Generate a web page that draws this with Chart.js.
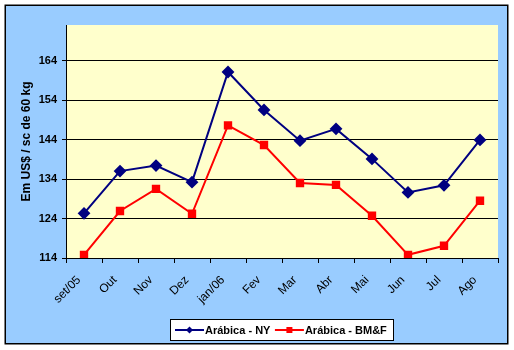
<!DOCTYPE html>
<html>
<head>
<meta charset="utf-8">
<script src="https://cdn.jsdelivr.net/npm/chart.js@4/dist/chart.umd.min.js"></script>
<style>
  html, body { margin: 0; padding: 0; background: #ffffff; }
  #wrap { width: 514px; height: 350px; position: relative; }
</style>
</head>
<body>
<div id="wrap"><canvas id="c" width="514" height="350"></canvas></div>
<script>
const categories = ['set/05', 'Out', 'Nov', 'Dez', 'jan/06', 'Fev', 'Mar', 'Abr', 'Mai', 'Jun', 'Jul', 'Ago'];
const arabicaNY = [125.3, 136.0, 137.4, 133.2, 161.1, 151.5, 143.7, 146.7, 139.1, 130.6, 132.4, 143.9];
const arabicaBMF = [114.8, 125.9, 131.5, 125.2, 147.6, 142.6, 133.0, 132.5, 124.7, 114.8, 117.1, 128.5];
const yTickValues = [114, 124, 134, 144, 154, 164];
const yTitle = 'Em US$ / sc de 60 kg';
const seriesNames = ['Arábica - NY', 'Arábica - BM&F'];

const FONT = 'Arial, "Liberation Sans", sans-serif';

const bgPlugin = {
  id: 'bgPlugin',
  beforeDraw(chart) {
    const ctx = chart.ctx;
    ctx.save();
    ctx.fillStyle = '#ffffff';
    ctx.fillRect(0, 0, chart.width, chart.height);
    ctx.fillStyle = '#99CCFF';
    ctx.fillRect(5, 5, 503, 339);
    ctx.strokeStyle = '#000000';
    ctx.lineWidth = 1.5;
    ctx.strokeRect(5.25, 5.25, 502.5, 338.5);
    const a = chart.chartArea;
    ctx.fillStyle = '#FFFFCC';
    ctx.fillRect(a.left, a.top, a.right - a.left, a.bottom - a.top);
    ctx.restore();
  }
};

const legendPlugin = {
  id: 'boxLegend',
  afterDraw(chart) {
    const ctx = chart.ctx;
    ctx.save();
    const bx = 170.5, by = 319.5, bw = 223, bh = 21;
    ctx.fillStyle = '#ffffff';
    ctx.fillRect(bx, by, bw, bh);
    ctx.strokeStyle = '#000000';
    ctx.lineWidth = 1;
    ctx.strokeRect(bx, by, bw, bh);
    ctx.font = 'bold 11px ' + FONT;
    ctx.textBaseline = 'middle';
    ctx.textAlign = 'left';
    const cy = 330;
    let x = 175;
    chart.data.datasets.forEach((ds, i) => {
      ctx.strokeStyle = ds.borderColor;
      ctx.lineWidth = 2;
      ctx.beginPath();
      ctx.moveTo(x, cy);
      ctx.lineTo(x + 29, cy);
      ctx.stroke();
      ctx.fillStyle = ds.borderColor;
      const mx = x + 14.5;
      if (ds.pointStyle === 'rectRot') {
        ctx.beginPath();
        ctx.moveTo(mx, cy - 3.5);
        ctx.lineTo(mx + 3.5, cy);
        ctx.lineTo(mx, cy + 3.5);
        ctx.lineTo(mx - 3.5, cy);
        ctx.closePath();
        ctx.fill();
      } else {
        ctx.fillRect(mx - 3, cy - 3, 6, 6);
      }
      ctx.fillStyle = '#000000';
      ctx.fillText(ds.label, x + 30, cy + 0.5);
      x += 30 + ctx.measureText(ds.label).width + 4.5;
    });
    ctx.restore();
  }
};

new Chart(document.getElementById('c'), {
  type: 'line',
  data: {
    labels: categories,
    datasets: [
      {
        label: seriesNames[0],
        data: arabicaNY,
        borderColor: '#000080',
        backgroundColor: '#000080',
        borderWidth: 2,
        pointStyle: 'rectRot',
        pointRadius: 5,
        pointHoverRadius: 5,
        tension: 0,
        fill: false
      },
      {
        label: seriesNames[1],
        data: arabicaBMF,
        borderColor: '#FF0000',
        backgroundColor: '#FF0000',
        borderWidth: 2,
        pointStyle: 'rect',
        pointRadius: 4.5,
        pointHoverRadius: 4.5,
        tension: 0,
        fill: false
      }
    ]
  },
  options: {
    responsive: false,
    animation: false,
    events: [],
    layout: { padding: { left: 5, right: 16, top: 25, bottom: 6 } },
    plugins: {
      legend: { display: false },
      tooltip: { enabled: false }
    },
    scales: {
      x: {
        type: 'category',
        offset: true,
        grid: {
          offset: true,
          drawOnChartArea: false,
          drawTicks: true,
          tickLength: 5,
          color: '#000000',
          lineWidth: 1
        },
        border: { display: true, color: '#000000', width: 1 },
        ticks: {
          color: '#000000',
          font: { family: FONT, size: 12, weight: 'normal' },
          minRotation: 45,
          maxRotation: 45,
          padding: 10,
          labelOffset: -5,
          autoSkip: false
        },
        afterFit(scale) { scale.height = 86; }
      },
      y: {
        min: 114,
        max: 173,
        grid: {
          color: '#000000',
          lineWidth: 1,
          drawTicks: true,
          tickLength: 4
        },
        border: { display: true, color: '#000000', width: 1 },
        ticks: {
          stepSize: 10,
          color: '#000000',
          font: { family: FONT, size: 11, weight: 'bold' },
          padding: 5
        },
        afterBuildTicks(scale) {
          scale.ticks = yTickValues.map(v => ({ value: v }));
        },
        title: {
          display: true,
          text: yTitle,
          color: '#000000',
          font: { family: FONT, size: 12, weight: 'bold' },
          padding: { top: 14, bottom: 0 }
        },
        afterFit(scale) { scale.width = 61; }
      }
    }
  },
  plugins: [bgPlugin, legendPlugin]
});
</script>
</body>
</html>
